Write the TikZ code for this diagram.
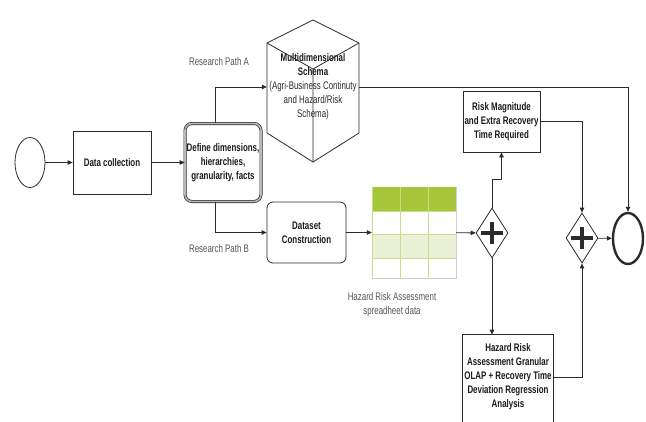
\documentclass[tikz,border=0pt]{standalone}
\usepackage{fontspec}
\setmainfont{Liberation Sans}[FakeStretch=0.72]
\usepackage{tikz}
\usetikzlibrary{shapes.geometric,arrows.meta}
\definecolor{linegray}{HTML}{2B2B2B}
\definecolor{notegray}{HTML}{555555}
\definecolor{textdark}{HTML}{1A1A1A}
\definecolor{sheetgreen}{HTML}{A5C63B}
\definecolor{sheetlight}{HTML}{EAF1D6}
\definecolor{sheetline}{HTML}{C9DE8C}

\begin{document}
\begin{tikzpicture}[x=1pt,y=-1pt,
	font=\fontsize{11}{14}\selectfont,
	flow/.style={draw=linegray, line width=0.8pt, -{Triangle[length=5pt,width=4.5pt]}},
	task/.style={draw=linegray, line width=0.8pt, align=center, inner sep=1pt, text=textdark, font=\fontsize{11}{14}\selectfont\bfseries},
	note/.style={align=center, text=notegray},
	gate/.style={diamond, draw=linegray, line width=0.8pt, fill=white, minimum width=32pt, minimum height=50pt, inner sep=0pt,
		path picture={\draw[line width=3.5pt] ([xshift=-11pt]path picture bounding box.center) -- ([xshift=11pt]path picture bounding box.center)
			([yshift=-11pt]path picture bounding box.center) -- ([yshift=11pt]path picture bounding box.center);}},
	event/.style={ellipse, draw=linegray, line width=0.8pt, minimum width=30pt, minimum height=50pt, inner sep=0pt}]
	\path[use as bounding box, clip] (0,0) rectangle (646,421);
	% start, collection and modelling
	\node[event] (start) at (30,162.5) {};
	\node[task, minimum width=78pt, minimum height=63pt] (collect) at (112,162.5) {Data collection};
	\node[task, rounded corners=7pt, draw=black!85, double=gray!55, double distance=1.6pt, line width=0.7pt,
		minimum width=76pt, minimum height=78pt] (define) at (223,162.5) {Define dimensions,\\hierarchies,\\granularity, facts};
	\draw[flow] (start) -- (collect);
	\draw[flow] (collect) -- (define);
	% path A: schema cube
	\node[align=center, text=linegray, minimum width=92pt, minimum height=134pt, inner sep=0pt] (schema) at (313,87)
		{\textbf{\color{textdark}Multidimensional}\\\textbf{\color{textdark}Schema}\\(Agri-Business Continuty\\and Hazard/Risk\\Schema)};
	\draw[draw=linegray, line width=0.8pt] (313,20) -- (359,43) -- (359,133) -- (313,162) -- (267,133) -- (267,43) -- cycle;
	\draw[draw=linegray, line width=0.8pt] (267,43) -- (313,69) -- (359,43) (313,69) -- (313,162);
	\draw[flow] ([xshift=-8pt]define.north) |- (schema.west);
	\node[note] (pathA) at (219,62) {Research Path A};
	% path B: dataset and spreadsheet
	\node[task, rounded corners=6pt, minimum width=79pt, minimum height=61pt] (dataset) at (306.5,232.5) {Dataset\\Construction};
	\draw[flow] ([xshift=-8pt]define.south) |- (dataset.west);
	\node[note] (pathB) at (219,249) {Research Path B};
	\fill[sheetgreen] (372,187) rectangle (456,211);
	\fill[sheetlight] (372,234) rectangle (456,258);
	\draw[sheetline, line width=0.8pt] (372,211) -- (456,211) (372,234) -- (456,234) (372,258) -- (456,258)
		(400,187) -- (400,278) (428,187) -- (428,278) (372,187) -- (372,278);
	\draw[black!18, line width=0.8pt] (456,187) -- (456,278) -- (372,278);
	\node[minimum width=84pt, minimum height=91pt, inner sep=0pt] (sheet) at (414,232.5) {};
	\node[note] (sheetlabel) at (392,305) {Hazard Risk Assessment\\spreadheet data};
	\draw[flow] (dataset) -- (sheet);
	% gateways and analysis
	\node[gate] (split) at (492,233) {};
	\node[gate] (join) at (582,238) {};
	\node[event, line width=2.4pt, minimum width=30pt, minimum height=51pt] (finish) at (628,238.5) {};
	\node[task, minimum width=77pt, minimum height=61pt] (risk) at (501.5,121.5) {Risk Magnitude\\and Extra Recovery\\Time Required};
	\node[task, draw=none, minimum width=90pt, minimum height=84pt] (hazard) at (508,377)
		{Hazard Risk\\Assessment Granular\\OLAP + Recovery Time\\Deviation Regression\\Analysis};
	\draw[draw=linegray, line width=0.8pt] ([yshift=-10pt]hazard.south west) |- (hazard.north east) -- ([yshift=-10pt]hazard.south east);
	\draw[flow] (sheet) -- (split);
	\draw[flow] (split.north) -- ++(0,-28) -| (risk.south);
	\draw[flow] (split.south) -- (split.south |- hazard.north);
	\draw[flow] (risk.east) -| (join.north);
	\draw[flow] (hazard.east) -| (join.south);
	\draw[flow] (join) -- (finish);
	\draw[flow] (schema.east) -| (finish.north);
\end{tikzpicture}
\end{document}
